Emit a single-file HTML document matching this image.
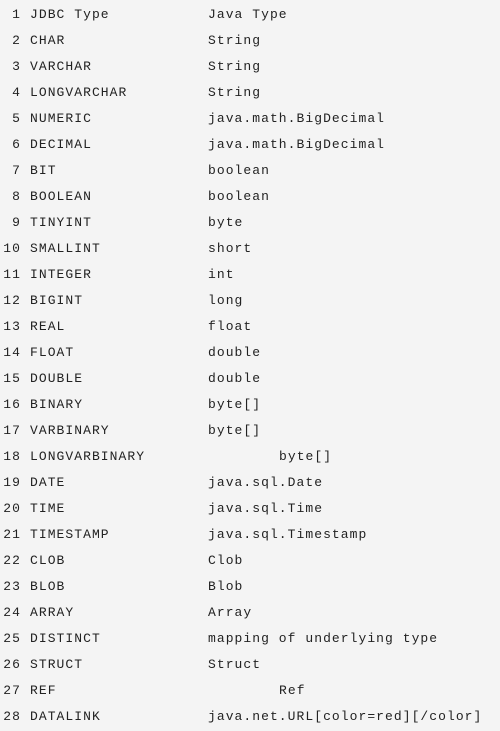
<!DOCTYPE html>
<html><head><style>
body{margin:0;width:500px;height:731px;background:#f4f4f4;overflow:hidden;font-family:"Liberation Mono","Courier New",monospace;font-size:13px;letter-spacing:1.05px;color:#222;}
.r{position:absolute;left:0;width:500px;height:26px;line-height:26px;white-space:pre;}
.r span{position:absolute;top:0;}
.n{left:0;width:21px;text-align:right}.a{left:30px}.b{left:208px}.c{left:279px}
</style></head><body>
<div id="w"></div>
<script>
var d=[["JDBC Type","Java Type"],["CHAR","String"],["VARCHAR","String"],["LONGVARCHAR","String"],["NUMERIC","java.math.BigDecimal"],["DECIMAL","java.math.BigDecimal"],["BIT","boolean"],["BOOLEAN","boolean"],["TINYINT","byte"],["SMALLINT","short"],["INTEGER","int"],["BIGINT","long"],["REAL","float"],["FLOAT","double"],["DOUBLE","double"],["BINARY","byte[]"],["VARBINARY","byte[]"],["LONGVARBINARY","byte[]",1],["DATE","java.sql.Date"],["TIME","java.sql.Time"],["TIMESTAMP","java.sql.Timestamp"],["CLOB","Clob"],["BLOB","Blob"],["ARRAY","Array"],["DISTINCT","mapping of underlying type"],["STRUCT","Struct"],["REF","Ref",1],["DATALINK","java.net.URL[color=red][/color]"]];
var h="";
d.forEach(function(r,i){
h+='<div class="r" style="top:'+(2+26*i)+'px"><span class="n">'+(i+1)+'</span><span class="a">'+r[0]+'</span><span class="'+(r[2]?'c':'b')+'">'+r[1]+'</span></div>';
});
document.getElementById('w').innerHTML=h;
</script>
</body></html>
